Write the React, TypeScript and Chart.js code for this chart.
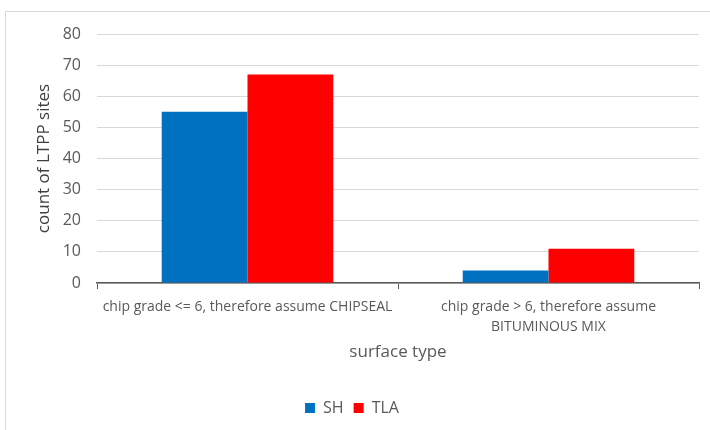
import React, { useEffect, useRef } from "react";
import { Chart, registerables } from "chart.js";

Chart.register(...registerables);

const categories: (string | string[])[] = [
  "chip grade <= 6, therefore assume CHIPSEAL",
  ["chip grade > 6, therefore assume", "BITUMINOUS MIX"],
];
const shValues = [55, 4];
const tlaValues = [67, 11];
const seriesNames = ["SH", "TLA"];
const yTicks = [0, 10, 20, 30, 40, 50, 60, 70, 80];

const FONT = "'Open Sans', 'DejaVu Sans', sans-serif";
const GRAY = "#595959";

export default function App() {
  const ref = useRef<HTMLCanvasElement | null>(null);

  useEffect(() => {
    if (!ref.current) return;
    const chart = new Chart(ref.current, {
      type: "bar",
      data: {
        labels: categories,
        datasets: [
          { label: seriesNames[0], data: shValues, backgroundColor: "#0070c0" },
          { label: seriesNames[1], data: tlaValues, backgroundColor: "#ff0000" },
        ],
      },
      options: {
        animation: false,
        responsive: false,
        maintainAspectRatio: false,
        layout: { padding: { top: 28, right: 11, bottom: 4, left: 0 } },
        datasets: {
          bar: { categoryPercentage: 0.57, barPercentage: 1 },
        },
        plugins: {
          legend: {
            position: "bottom",
            labels: {
              boxWidth: 10,
              boxHeight: 10,
              padding: 10,
              color: GRAY,
              font: { family: FONT, size: 16 },
            },
          },
          tooltip: { enabled: false },
        },
        scales: {
          x: {
            grid: {
              offset: true,
              drawOnChartArea: false,
              drawTicks: true,
              tickLength: 6,
              color: GRAY,
            },
            border: { display: true, color: GRAY, width: 1.5 },
            ticks: {
              color: GRAY,
              padding: 8,
              maxRotation: 0,
              autoSkip: false,
              font: { family: FONT, size: 14, lineHeight: 1.45 },
            },
            title: {
              display: true,
              text: "surface type",
              color: GRAY,
              padding: { top: 10, bottom: 28 },
              font: { family: FONT, size: 17 },
            },
            afterFit: (scale: any) => {
              scale.height = 107;
            },
          },
          y: {
            min: 0,
            max: 80,
            afterBuildTicks: (scale: any) => {
              scale.ticks = yTicks.map((v) => ({ value: v }));
            },
            grid: { color: "#d9d9d9", drawTicks: false },
            border: { display: false },
            ticks: {
              color: GRAY,
              padding: 16,
              font: { family: FONT, size: 16 },
            },
            title: {
              display: true,
              text: "count of LTPP sites",
              color: "#404040",
              padding: { top: 29, bottom: 0 },
              font: { family: FONT, size: 17 },
            },
            afterFit: (scale: any) => {
              scale.width = 92;
            },
          },
        },
      },
    });
    return () => chart.destroy();
  }, []);

  return (
    <div
      style={{
        position: "fixed",
        left: 0,
        top: 0,
        width: 710,
        height: 430,
        background: "#fff",
        overflow: "hidden",
      }}
    >
      <div
        style={{
          position: "absolute",
          left: 5,
          top: 11,
          width: 720,
          height: 440,
          border: "1px solid #d9d9d9",
          boxSizing: "border-box",
        }}
      />
      <canvas
        ref={ref}
        width={705}
        height={424}
        style={{ position: "absolute", left: 5, top: 6, width: 705, height: 424 }}
      />
    </div>
  );
}
